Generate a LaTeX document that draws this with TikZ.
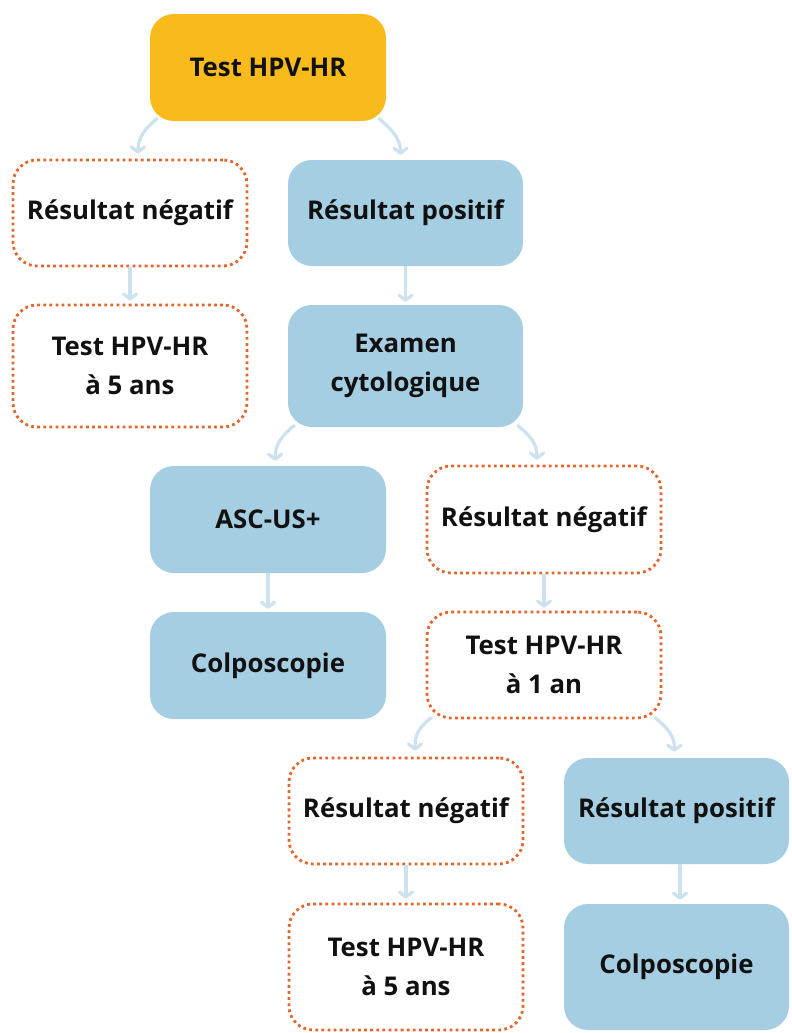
\documentclass[tikz,border=0pt]{standalone}
\usepackage{fontspec}
\setmainfont{Open Sans}
\usetikzlibrary{arrows.meta,calc}
\definecolor{boxblue}{HTML}{A6CEE2}
\definecolor{boxorange}{HTML}{F9BB1C}
\definecolor{dotorange}{HTML}{E3662A}
\definecolor{arrowblue}{HTML}{CDE2EF}
\definecolor{txt}{HTML}{111111}
\tikzset{
  box/.style={rounded corners=24pt, inner sep=0pt, align=center, text=txt,
    font=\fontsize{25.8}{39}\selectfont\bfseries},
  bluebox/.style={box, fill=boxblue},
  orangebox/.style={box, fill=boxorange},
  dotbox/.style={box, draw=dotorange, line width=2.8pt, dash pattern=on 2.8pt off 3.3pt},
  conn/.style={draw=arrowblue, line width=3.2pt,
    -{Straight Barb[length=5pt,width=13pt,round]}},
}
\begin{document}
\begin{tikzpicture}[x=1pt,y=-1pt]
\useasboundingbox (0,0) rectangle (792,1033);
\fill[white] (0,0) rectangle (792,1033);

\node[orangebox, minimum width=236pt, minimum height=107pt] (top) at (268,67.5) {Test HPV-HR};
\node[dotbox, minimum width=234pt, minimum height=106pt] (neg1) at (130,213) {Résultat négatif};
\node[bluebox, minimum width=235pt, minimum height=106pt] (pos1) at (405.5,213) {Résultat positif};
\node[dotbox, minimum width=234pt, minimum height=122pt] (t5a) at (130,366) {Test HPV-HR\\à 5 ans};
\node[bluebox, minimum width=235pt, minimum height=122pt] (exam) at (405.5,366) {Examen\\cytologique};
\node[bluebox, minimum width=236pt, minimum height=107pt] (asc) at (268,519.5) {ASC-US+};
\node[dotbox, minimum width=234pt, minimum height=107pt] (neg2) at (544,519.5) {Résultat négatif};
\node[bluebox, minimum width=236pt, minimum height=107pt] (colpo1) at (268,665.5) {Colposcopie};
\node[dotbox, minimum width=234pt, minimum height=106pt] (t1) at (544,665) {Test HPV-HR\\à 1 an};
\node[dotbox, minimum width=234pt, minimum height=106pt] (neg3) at (406,811) {Résultat négatif};
\node[bluebox, minimum width=225pt, minimum height=106pt] (pos2) at (676.5,811) {Résultat positif};
\node[dotbox, minimum width=234pt, minimum height=126pt] (t5b) at (406,967) {Test HPV-HR\\à 5 ans};
\node[bluebox, minimum width=225pt, minimum height=126pt] (colpo2) at (676.5,967) {Colposcopie};

% curved connectors
\draw[conn] ($(top.south west)+(8,-3)$) .. controls +(-13,10) and +(0,-16) .. ($(neg1.north)+(8,-5)$);
\draw[conn] ($(top.south east)+(-8,-3)$) .. controls +(13,10) and +(0,-16) .. ($(pos1.north)+(-5,-5)$);
\draw[conn] ($(exam.south west)+(7,-2)$) .. controls +(-13,10) and +(0,-16) .. ($(asc.north)+(7,-5)$);
\draw[conn] ($(exam.south east)+(-6,-2)$) .. controls +(13,10) and +(0,-16) .. ($(neg2.north)+(-7,-5)$);
\draw[conn] ($(t1.south west)+(6,-2)$) .. controls +(-13,10) and +(0,-16) .. ($(neg3.north)+(9,-6)$);
\draw[conn] ($(t1.south east)+(-8,-2)$) .. controls +(13,10) and +(0,-16) .. ($(pos2.north)+(-2,-6)$);

% straight connectors
\draw[conn] (neg1.south) -- ($(t5a.north)+(0,-3)$);
\draw[conn] (pos1.south) -- ($(exam.north)+(0,-3)$);
\draw[conn] (asc.south) -- ($(colpo1.north)+(0,-3)$);
\draw[conn] (neg2.south) -- ($(t1.north)+(0,-3)$);
\draw[conn] (neg3.south) -- ($(t5b.north)+(0,-4)$);
\draw[conn] ($(pos2.south)+(3.5,0)$) -- ($(colpo2.north)+(3.5,-4)$);
\end{tikzpicture}
\end{document}
